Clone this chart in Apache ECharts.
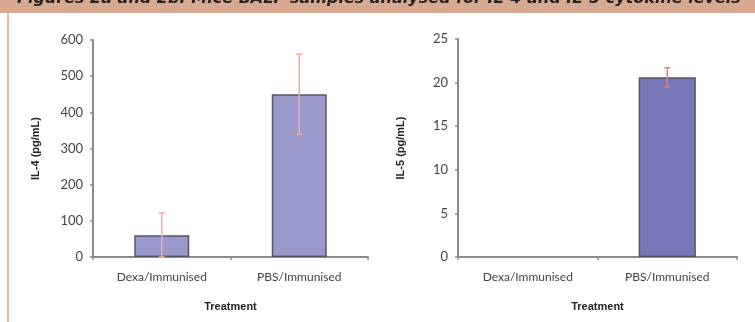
<!DOCTYPE html>
<html>
<head>
<meta charset="utf-8">
<script src="https://cdn.jsdelivr.net/npm/echarts@6/dist/echarts.min.js"></script>
<style>
html,body{margin:0;padding:0;background:#fff;}
#chart{width:755px;height:322px;}
</style>
</head>
<body>
<div id="chart"></div>
<script>
const titleText = 'Figures 2a and 2b: Mice BALF samples analysed for IL-4 and IL-5 cytokine levels';
const categories = ['Dexa/Immunised', 'PBS/Immunised'];
const il4Values = [60, 450];
const il4Errors = [62, 111];
const il5Values = [0, 20.6];
const il5Errors = [0, 1.1];
const il4Ticks = { min: 0, max: 600, interval: 100 };
const il5Ticks = { min: 0, max: 25, interval: 5 };
const xAxisTitle = 'Treatment';
const il4AxisTitle = 'IL-4 (pg/mL)';
const il5AxisTitle = 'IL-5 (pg/mL)';

const chart = echarts.init(document.getElementById('chart'), null, { renderer: 'canvas' });

const axisGray = '#8a8a8a';
const labelFont = 'Lato, "Open Sans", sans-serif';
const narrowBold = '"Liberation Sans Narrow", "Liberation Sans", Arial, sans-serif';

function errData(vals, errs) {
  return vals.map((v, i) => [i, Math.max(0, v - errs[i]), v + errs[i], errs[i]]);
}

function barData(vals) {
  return vals.map(v => ({ value: v, itemStyle: { borderWidth: v === 0 ? 0 : 1.5 } }));
}

function errSeries(xi, vals, errs, color) {
  return {
    type: 'custom',
    xAxisIndex: xi, yAxisIndex: xi,
    z: 5,
    data: errData(vals, errs),
    renderItem: function (params, api) {
      if (api.value(3) === 0) return null;
      const lo = api.coord([api.value(0), api.value(1)]);
      const hi = api.coord([api.value(0), api.value(2)]);
      const hw = 3;
      const st = { stroke: color, lineWidth: 1.5 };
      return {
        type: 'group',
        children: [
          { type: 'line', shape: { x1: hi[0], y1: hi[1], x2: lo[0], y2: lo[1] }, style: st },
          { type: 'line', shape: { x1: hi[0] - hw, y1: hi[1], x2: hi[0] + hw, y2: hi[1] }, style: st },
          { type: 'line', shape: { x1: lo[0] - hw, y1: lo[1], x2: lo[0] + hw, y2: lo[1] }, style: st }
        ]
      };
    }
  };
}

function xAxisCfg(gi) {
  return {
    type: 'category', gridIndex: gi, data: categories,
    name: xAxisTitle, nameLocation: 'middle', nameGap: 44,
    nameTextStyle: { fontFamily: narrowBold, fontWeight: 'bold', fontSize: 11, color: '#222' },
    axisLine: { lineStyle: { color: axisGray, width: 2 } },
    axisTick: { show: true, length: 3, lineStyle: { color: axisGray, width: 1.5 } },
    axisLabel: { fontFamily: labelFont, fontSize: 12, color: '#444', margin: 14 },
    splitLine: { show: false }
  };
}

function yAxisCfg(gi, ticks, name) {
  return {
    type: 'value', gridIndex: gi, min: ticks.min, max: ticks.max, interval: ticks.interval,
    name: name, nameLocation: 'middle', nameRotate: 90, nameGap: 52,
    nameTextStyle: { fontFamily: narrowBold, fontWeight: 'bold', fontSize: 11, color: '#222' },
    axisLine: { show: true, lineStyle: { color: axisGray, width: 2 } },
    axisTick: { show: true, length: 3, lineStyle: { color: axisGray, width: 1.5 } },
    axisLabel: { fontFamily: labelFont, fontSize: 13, color: '#444', margin: 10 },
    splitLine: { show: false }
  };
}

const option = {
  animation: false,
  backgroundColor: '#fff',
  graphic: [
    { type: 'rect', shape: { x: 0, y: 0, width: 755, height: 13 }, style: { fill: '#d7a993' }, z: 10 },
    { type: 'rect', shape: { x: 7, y: 13, width: 2, height: 309 }, style: { fill: '#e3bca6' }, z: 10 },
    { type: 'text', x: 17, y: 7, z: 11,
      style: { text: titleText, fill: '#2a2020', font: 'oblique bold 16px "DejaVu Sans", sans-serif', verticalAlign: 'bottom', align: 'left' } }
  ],
  grid: [
    { left: 93, top: 40, width: 275, height: 217 },
    { left: 458, top: 39, width: 279, height: 218 }
  ],
  xAxis: [xAxisCfg(0), xAxisCfg(1)],
  yAxis: [yAxisCfg(0, il4Ticks, il4AxisTitle), yAxisCfg(1, il5Ticks, il5AxisTitle)],
  series: [
    {
      type: 'bar', xAxisIndex: 0, yAxisIndex: 0, data: barData(il4Values), barWidth: '40%',
      itemStyle: { color: '#9999cc', borderColor: '#555566', borderWidth: 1.5 }
    },
    errSeries(0, il4Values, il4Errors, '#f6ab98'),
    {
      type: 'bar', xAxisIndex: 1, yAxisIndex: 1, data: barData(il5Values), barWidth: '41%',
      itemStyle: { color: '#7878b8', borderColor: '#555566', borderWidth: 1.5 }
    },
    errSeries(1, il5Values, il5Errors, '#ec7c6c')
  ]
};
chart.setOption(option);
</script>
</body>
</html>
